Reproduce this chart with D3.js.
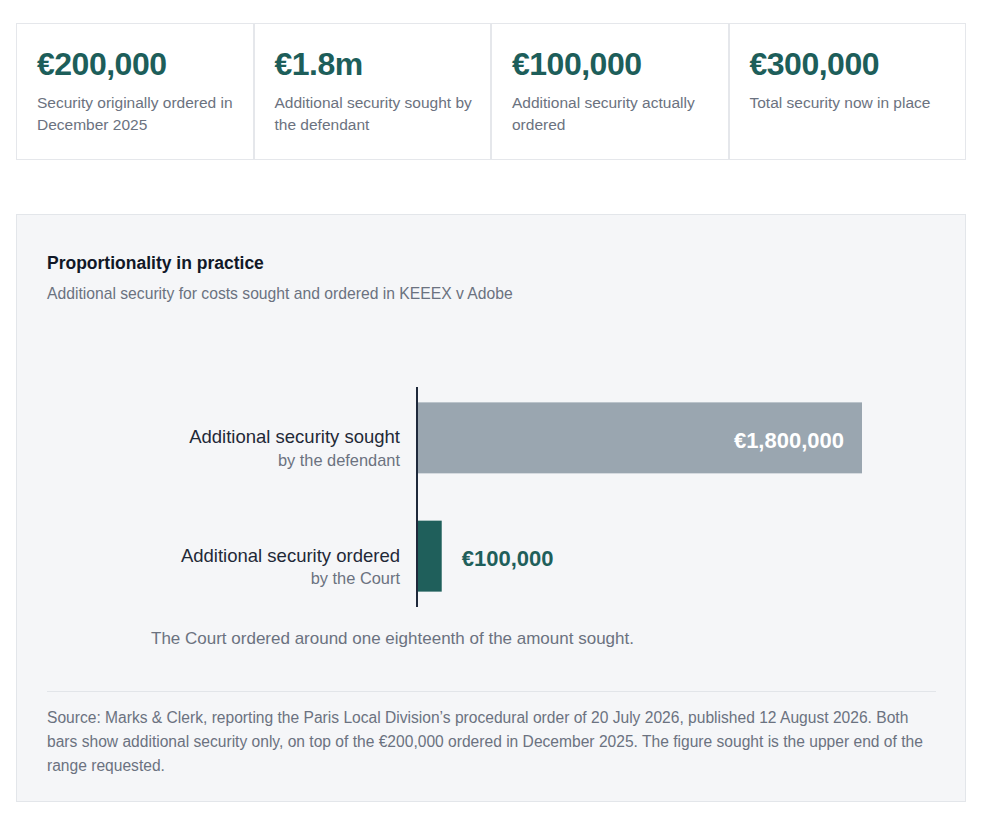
<!DOCTYPE html>
<html>
<head>
<meta charset="utf-8">
<script src="https://cdn.jsdelivr.net/npm/d3@7"></script>
<style>
	body { margin: 0; width: 985px; height: 814px; background: #fff; position: relative;
		font-family: "Liberation Sans", Arial, Helvetica, sans-serif; }
	.cards { position: absolute; left: 16px; top: 23px; width: 950px; height: 137px; display: flex; }
	.card { flex: 1; box-sizing: border-box; border: 1px solid #e5e7eb; padding: 22px 10px 0 20px; }
	.card .val { font-size: 32px; line-height: 36px; font-weight: bold; color: #1d5e5a; letter-spacing: -0.5px; }
	.card .lbl { margin-top: 10px; font-size: 15.5px; line-height: 21.5px; color: #6b7280; }
	.panel { position: absolute; left: 16px; top: 214px; width: 950px; height: 588px; box-sizing: border-box;
		background: #f5f6f8; border: 1px solid #e3e6ea; }
	.title { position: absolute; left: 30px; top: 37px; font-size: 17.5px; line-height: 22px; font-weight: bold; color: #111827; }
	.subtitle { position: absolute; left: 30px; top: 68px; font-size: 15.7px; line-height: 22px; color: #6b7280; }
	.chart { position: absolute; left: 30px; top: 105px; }
	.rule { position: absolute; left: 30px; top: 476px; width: 889px; height: 1px; background: #e2e5e9; }
	.source { position: absolute; left: 30px; top: 491px; width: 882px; font-size: 15.6px; line-height: 24px; color: #6b7280; }
</style>
</head>
<body>
<div class="cards" id="cards"></div>
<div class="panel">
	<div class="title">Proportionality in practice</div>
	<div class="subtitle">Additional security for costs sought and ordered in KEEEX v Adobe</div>
	<svg class="chart" id="chart" width="889" height="340"></svg>
	<div class="rule"></div>
	<div class="source">Source: Marks &amp; Clerk, reporting the Paris Local Division’s procedural order of 20 July 2026, published 12 August 2026. Both bars show additional security only, on top of the €200,000 ordered in December 2025. The figure sought is the upper end of the range requested.</div>
</div>
<script>
"use strict";

// Headline figures
var cardValues = ['€200,000', '€1.8m', '€100,000', '€300,000'];
var cardLabels = ['Security originally ordered in December 2025',
	'Additional security sought by the defendant',
	'Additional security actually ordered',
	'Total security now in place'];

// Bar chart data
var categories = ['Additional security sought', 'Additional security ordered'];
var subLabels  = ['by the defendant', 'by the Court'];
var values     = [1800000, 100000];
var noteText   = 'The Court ordered around one eighteenth of the amount sought.';

var fmt = function(v) { return '€' + d3.format(',')(v); };

// Cards row
var cards = d3.select('#cards').selectAll('div.card').data(cardValues).enter()
	.append('div').attr('class', 'card');
cards.append('div').attr('class', 'val').text(function(d) { return d; });
cards.append('div').attr('class', 'lbl').text(function(d, i) { return cardLabels[i]; });

// Chart
var svg = d3.select('#chart');
var x = d3.scaleLinear().domain([0, 1800000]).range([370, 815]);
var y = d3.scaleBand().domain(categories).range([67, 287]).paddingInner(0.4).paddingOuter(0.13);
var colors = ['#9aa6b0', '#1f5f5b'];

var rows = svg.selectAll('g.row').data(categories).enter().append('g').attr('class', 'row');

rows.append('rect')
	.attr('x', x(0)).attr('y', function(d) { return y(d); })
	.attr('width', function(d, i) { return x(values[i]) - x(0); })
	.attr('height', y.bandwidth())
	.style('fill', function(d, i) { return colors[i]; });

// Category labels
rows.append('text')
	.attr('x', x(0) - 17).attr('y', function(d) { return y(d) + y.bandwidth()/2 + 5.5; })
	.style('text-anchor', 'end').style('font-size', '18.5px').style('fill', '#1f2937')
	.text(function(d) { return d; });
rows.append('text')
	.attr('x', x(0) - 17).attr('y', function(d) { return y(d) + y.bandwidth()/2 + 28; })
	.style('text-anchor', 'end').style('font-size', '16.4px').style('fill', '#6b7280')
	.text(function(d, i) { return subLabels[i]; });

// Value labels: inside the bar when it is wide, outside otherwise
rows.append('text')
	.attr('x', function(d, i) { var w = x(values[i]) - x(0); return w > 150 ? x(values[i]) - 18 : x(values[i]) + 20; })
	.attr('y', function(d) { return y(d) + y.bandwidth()/2 + 10; })
	.style('text-anchor', function(d, i) { return x(values[i]) - x(0) > 150 ? 'end' : 'start'; })
	.style('font-size', '22px').style('font-weight', 'bold')
	.style('fill', function(d, i) { return x(values[i]) - x(0) > 150 ? '#ffffff' : '#1f5f5b'; })
	.text(function(d, i) { return fmt(values[i]); });

// Baseline axis
svg.append('line')
	.attr('x1', x(0)).attr('x2', x(0)).attr('y1', 67).attr('y2', 287)
	.style('stroke', '#1e293b').style('stroke-width', 2);

// Note under the bars
svg.append('text').attr('x', 104).attr('y', 324)
	.style('font-size', '17px').style('fill', '#6b7280').text(noteText);
</script>
</body>
</html>
